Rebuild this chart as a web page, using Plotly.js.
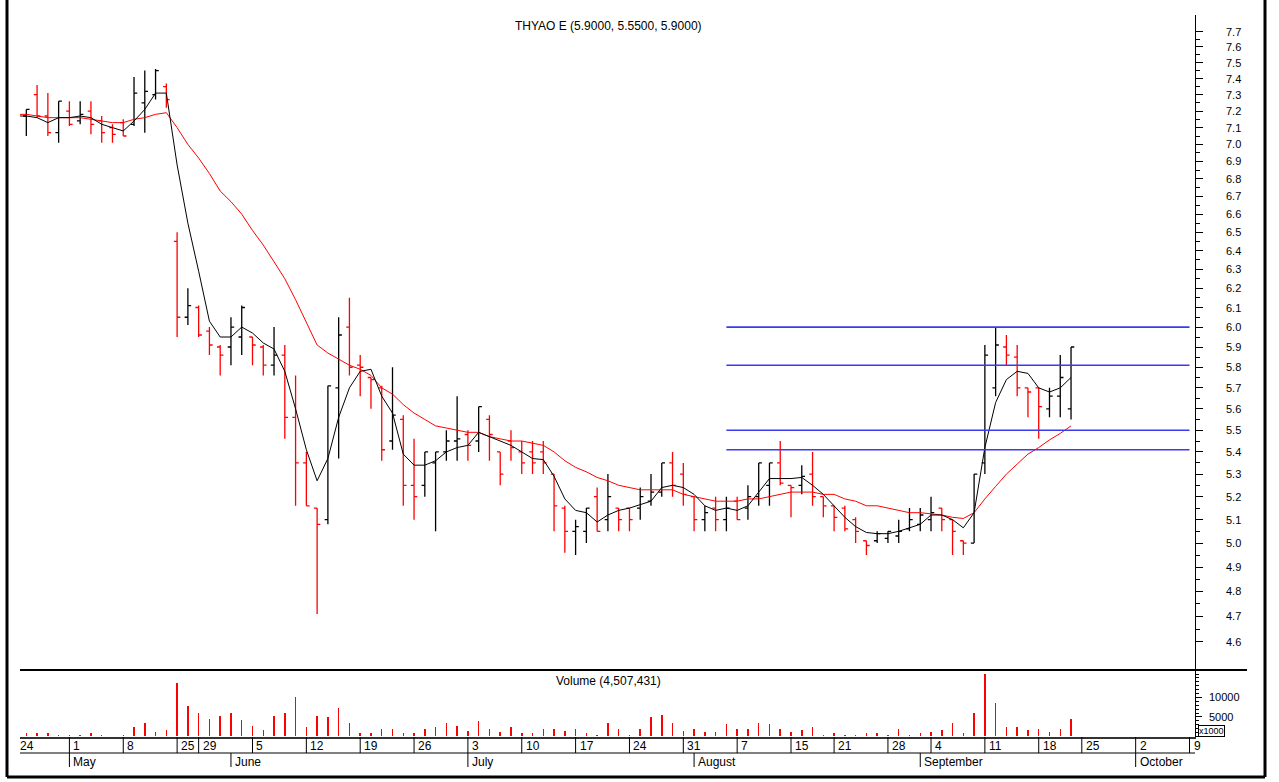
<!DOCTYPE html>
<html>
<head>
<meta charset="utf-8">
<script src="https://cdn.plot.ly/plotly-3.0.1.min.js"></script>
<style>
  html, body { margin: 0; padding: 0; background: #fff; }
  #chart { width: 1279px; height: 782px; }
</style>
</head>
<body>
<div id="chart"></div>
<script>
// --- data (trading-day index 1 = Apr 25, last bar = Sep 21) ---
const opens = [7.17, 7.30, 7.17, 7.07, 7.20, 7.14, 7.20, 7.14, 7.10, 7.13,
  7.12, 7.25, 7.30, 7.35, 6.45, 6.05, 6.10, 5.98, 5.90, 5.90,
  5.95, 5.95, 5.90, 5.81, 5.86, 5.56, 5.35, 5.15, 5.10, 5.70,
  6.00, 5.81, 5.75, 5.70, 5.45, 5.55, 5.25, 5.25, 5.35, 5.40,
  5.45, 5.48, 5.45, 5.55, 5.40, 5.45, 5.40, 5.40, 5.40, 5.30,
  5.15, 5.05, 5.05, 5.20, 5.10, 5.15, 5.15, 5.15, 5.18, 5.22,
  5.35, 5.30, 5.20, 5.10, 5.15, 5.10, 5.18, 5.15, 5.20, 5.25,
  5.35, 5.25, 5.25, 5.30, 5.20, 5.16, 5.15, 5.10, 5.01, 5.01,
  5.02, 5.03, 5.06, 5.08, 5.10, 5.15, 5.10, 5.01, 5.00, 5.35,
  5.70, 5.90, 5.85, 5.70, 5.70, 5.60, 5.66, 5.60];
const highs = [7.21, 7.36, 7.31, 7.26, 7.26, 7.26, 7.26, 7.17, 7.12, 7.15,
  7.41, 7.45, 7.46, 7.37, 6.50, 6.20, 6.11, 6.00, 5.91, 6.05,
  6.11, 5.95, 5.91, 6.00, 5.91, 5.76, 5.40, 5.15, 5.71, 6.05,
  6.15, 5.86, 5.75, 5.71, 5.80, 5.57, 5.46, 5.40, 5.40, 5.50,
  5.66, 5.50, 5.61, 5.57, 5.40, 5.50, 5.45, 5.45, 5.45, 5.30,
  5.16, 5.10, 5.15, 5.24, 5.30, 5.15, 5.15, 5.24, 5.30, 5.35,
  5.40, 5.35, 5.20, 5.16, 5.20, 5.20, 5.20, 5.25, 5.35, 5.35,
  5.45, 5.25, 5.34, 5.40, 5.20, 5.16, 5.16, 5.11, 5.01, 5.05,
  5.05, 5.10, 5.15, 5.15, 5.20, 5.15, 5.10, 5.01, 5.30, 5.91,
  6.00, 5.96, 5.91, 5.70, 5.70, 5.70, 5.86, 5.90];
const lows = [7.05, 7.16, 7.05, 7.01, 7.11, 7.12, 7.06, 7.01, 7.01, 7.05,
  7.11, 7.07, 7.27, 7.22, 5.95, 6.01, 5.95, 5.86, 5.76, 5.81,
  5.86, 5.81, 5.76, 5.76, 5.46, 5.16, 5.16, 4.71, 5.08, 5.37,
  5.76, 5.66, 5.60, 5.36, 5.41, 5.16, 5.10, 5.20, 5.05, 5.36,
  5.36, 5.36, 5.40, 5.36, 5.25, 5.36, 5.30, 5.30, 5.30, 5.05,
  4.96, 4.95, 5.00, 5.05, 5.05, 5.05, 5.05, 5.10, 5.16, 5.20,
  5.20, 5.16, 5.05, 5.05, 5.05, 5.05, 5.10, 5.10, 5.16, 5.16,
  5.25, 5.11, 5.21, 5.16, 5.11, 5.05, 5.05, 5.00, 4.95, 5.00,
  5.00, 5.00, 5.05, 5.05, 5.05, 5.05, 4.95, 4.95, 5.00, 5.30,
  5.66, 5.81, 5.66, 5.56, 5.46, 5.56, 5.56, 5.55];
const closes = [7.21, 7.17, 7.07, 7.26, 7.12, 7.18, 7.12, 7.07, 7.06, 7.05,
  7.31, 7.32, 7.45, 7.27, 6.05, 6.11, 5.96, 5.91, 5.86, 6.00,
  6.10, 5.91, 5.81, 5.86, 5.56, 5.35, 5.16, 5.08, 5.71, 5.96,
  5.80, 5.80, 5.74, 5.41, 5.57, 5.25, 5.20, 5.40, 5.40, 5.45,
  5.46, 5.43, 5.61, 5.48, 5.30, 5.42, 5.35, 5.35, 5.35, 5.16,
  5.05, 5.07, 5.15, 5.05, 5.20, 5.10, 5.10, 5.20, 5.22, 5.35,
  5.25, 5.21, 5.10, 5.13, 5.10, 5.15, 5.10, 5.20, 5.35, 5.35,
  5.26, 5.24, 5.29, 5.20, 5.16, 5.11, 5.06, 5.05, 4.99, 5.04,
  5.05, 5.05, 5.10, 5.12, 5.13, 5.10, 5.05, 5.00, 5.30, 5.86,
  5.91, 5.86, 5.70, 5.68, 5.61, 5.66, 5.75, 5.90];
// volume in thousands
const volumes = [0.77, 0.85, 0.85, 0.5, 0.3, 0.5, 0.85, 0.5, 0.15, 0.3,
  2.5, 3.35, 1.2, 1.55, 13.6, 7.8, 5.9, 4.6, 5.2, 5.9,
  4.35, 2.75, 1.55, 5.3, 5.9, 10.25, 2.4, 5.3, 4.9, 7.2,
  3.35, 0.85, 0.85, 1.8, 2.05, 0.85, 0.85, 2.05, 2.5, 3.35,
  2.75, 1.45, 4.0, 2.05, 1.2, 2.4, 0.77, 0.77, 1.8, 1.8,
  1.45, 1.8, 0.77, 0.5, 3.35, 1.8, 0.5, 1.8, 4.9, 5.55,
  3.35, 1.45, 1.8, 1.2, 1.2, 3.1, 1.8, 1.8, 3.35, 3.1,
  1.8, 1.2, 1.55, 2.4, 0.5, 0.85, 0.5, 0.5, 0.85, 0.85,
  0.4, 1.8, 0.5, 0.85, 1.2, 1.55, 3.35, 0.77, 6.15, 16.0,
  8.7, 2.5, 2.5, 1.55, 1.8, 1.2, 2.05, 4.507];

// moving averages, index 0..98 (black = fast, red = slow)
const fastMA = [7.17, 7.17, 7.16, 7.13, 7.16, 7.16, 7.17, 7.16, 7.12, 7.10,
  7.08, 7.14, 7.21, 7.31, 7.31, 6.88, 6.55, 6.29, 6.03, 5.95,
  5.95, 6.00, 5.97, 5.92, 5.89, 5.78, 5.60, 5.41, 5.27, 5.37,
  5.56, 5.70, 5.78, 5.79, 5.66, 5.58, 5.39, 5.34, 5.34, 5.36,
  5.40, 5.42, 5.43, 5.49, 5.47, 5.45, 5.43, 5.40, 5.37, 5.365,
  5.29, 5.19, 5.14, 5.13, 5.09, 5.12, 5.14, 5.15, 5.165, 5.18,
  5.24, 5.25, 5.24, 5.21, 5.16, 5.14, 5.15, 5.14, 5.16, 5.22,
  5.28, 5.28, 5.28, 5.285, 5.25, 5.21, 5.16, 5.11, 5.07, 5.045,
  5.04, 5.04, 5.05, 5.065, 5.08, 5.12, 5.12, 5.10, 5.065, 5.13,
  5.42, 5.63, 5.74, 5.78, 5.77, 5.70, 5.68, 5.70, 5.75];
const slowMA = [7.18, 7.18, 7.17, 7.16, 7.16, 7.16, 7.16, 7.15, 7.14, 7.13,
  7.13, 7.15, 7.16, 7.18, 7.19, 7.10, 7.00, 6.92, 6.83, 6.73,
  6.67, 6.60, 6.51, 6.43, 6.34, 6.25, 6.14, 6.02, 5.91, 5.87,
  5.84, 5.81, 5.79, 5.76, 5.70, 5.67, 5.62, 5.58, 5.55, 5.52,
  5.51, 5.50, 5.49, 5.49, 5.47, 5.46, 5.45, 5.45, 5.44, 5.43,
  5.40, 5.36, 5.33, 5.31, 5.285, 5.27, 5.25, 5.24, 5.23, 5.23,
  5.23, 5.23, 5.21, 5.20, 5.19, 5.18, 5.18, 5.18, 5.19, 5.19,
  5.20, 5.21, 5.22, 5.22, 5.22, 5.21, 5.21, 5.19, 5.18, 5.16,
  5.16, 5.15, 5.14, 5.13, 5.13, 5.125, 5.12, 5.11, 5.105, 5.13,
  5.19, 5.245, 5.30, 5.345, 5.39, 5.42, 5.455, 5.485, 5.52];

// horizontal levels drawn from Aug 7 to Oct 9
const levelValues = [6.0, 5.81, 5.5, 5.41];
const levelSpan = [66, 109];

// price axis labels
const priceTicks = [4.6, 4.7, 4.8, 4.9, 5.0, 5.1, 5.2, 5.3, 5.4, 5.5, 5.6, 5.7,
  5.8, 5.9, 6.0, 6.1, 6.2, 6.3, 6.4, 6.5, 6.6, 6.7, 6.8, 6.9, 7.0, 7.1, 7.2,
  7.3, 7.4, 7.5, 7.6, 7.7];
const volumeTicks = [5, 10];
const volumeTickText = ['5000', '10000'];

// date axis: trading-day index of each week start and month start
const dayTickIdx = [0, 5, 10, 15, 17, 22, 27, 32, 37, 42, 47, 52, 57, 62, 67, 72, 76, 81, 85, 90, 95, 99, 104, 109];
const dayTickText = ['24', '1', '8', '25', '29', '5', '12', '19', '26', '3', '10', '17', '24', '31', '7', '15', '21', '28', '4', '11', '18', '25', '2', '9'];
const monthTickIdx = [5, 20, 42, 63, 84, 104];
const monthTickText = ['May', 'June', 'July', 'August', 'September', 'October'];

const titleText = 'THYAO E (5.9000, 5.5500, 5.9000)';
const volumeText = 'Volume (4,507,431)';

// --- geometry ---
const X_RANGE = [0.413, 109.51];
const PLOT_H = 722;          // 782 - top 15 - bottom 45
const PLOT_W = 1175;         // 1279 - left 20 - right 84
const py = px => (737 - px) / PLOT_H;     // pixel row -> paper y
const pxX = px => (px - 20) / PLOT_W;     // pixel col -> paper x
const idxToPaper = i => (i - X_RANGE[0]) / (X_RANGE[1] - X_RANGE[0]);

const barIdx = closes.map((_, i) => i + 1);
const maIdx = fastMA.map((_, i) => i);

// --- traces ---
const traces = [];

traces.push({
    type: 'ohlc',
    x: barIdx,
    open: opens,
    high: highs,
    low: lows,
    close: closes,
    xaxis: 'x',
    yaxis: 'y',
    tickwidth: 0.3,
    increasing: { line: { color: '#000000', width: 1.3 } },
    decreasing: { line: { color: '#ff0000', width: 1.3 } },
    hoverinfo: 'skip'
});

traces.push({
    type: 'scatter', mode: 'lines',
    x: maIdx, y: slowMA,
    line: { color: '#ff0000', width: 1 },
    xaxis: 'x', yaxis: 'y', hoverinfo: 'skip'
});

traces.push({
    type: 'scatter', mode: 'lines',
    x: maIdx, y: fastMA,
    line: { color: '#000000', width: 1 },
    xaxis: 'x', yaxis: 'y', hoverinfo: 'skip'
});

levelValues.forEach(v => {
    traces.push({
        type: 'scatter', mode: 'lines',
        x: levelSpan, y: [v, v],
        line: { color: '#3a3af0', width: 1.6 },
        xaxis: 'x', yaxis: 'y', hoverinfo: 'skip'
    });
});

traces.push({
    type: 'bar',
    x: barIdx, y: volumes,
    width: 0.14,
    marker: { color: '#ff0000', line: { width: 0 } },
    xaxis: 'x', yaxis: 'y2', hoverinfo: 'skip'
});

// --- shapes: panel separator, date scale, frame ---
const shapes = [];
const black = { color: '#000', width: 1 };

shapes.push({ type: 'line', xref: 'paper', yref: 'paper', x0: 0, x1: pxX(1247), y0: py(670), y1: py(670), line: { color: '#000', width: 2 } });

dayTickIdx.forEach(i => {
    shapes.push({ type: 'line', xref: 'x', yref: 'paper', x0: i, x1: i, y0: py(737), y1: py(753), line: black });
});
shapes.push({ type: 'line', xref: 'paper', yref: 'paper', x0: 0, x1: 1, y0: py(753), y1: py(753), line: black });
monthTickIdx.forEach(i => {
    shapes.push({ type: 'line', xref: 'x', yref: 'paper', x0: i, x1: i, y0: py(753), y1: py(767), line: black });
});

// outer frame (left, right, bottom)
const frame = { color: '#000', width: 3 };
shapes.push({ type: 'line', xref: 'paper', yref: 'paper', x0: pxX(7), x1: pxX(7), y0: py(0), y1: py(777), line: frame });
shapes.push({ type: 'line', xref: 'paper', yref: 'paper', x0: pxX(1265), x1: pxX(1265), y0: py(0), y1: py(777), line: frame });
shapes.push({ type: 'line', xref: 'paper', yref: 'paper', x0: pxX(7), x1: pxX(1265), y0: py(777), y1: py(777), line: frame });

// --- annotations ---
const annotations = [];
const txt = { family: 'Liberation Sans, Arial, sans-serif', size: 11, color: '#000' };
const txtBig = { family: 'Liberation Sans, Arial, sans-serif', size: 12, color: '#000' };

annotations.push({ text: titleText, xref: 'paper', yref: 'paper', x: pxX(608), y: py(26), showarrow: false, xanchor: 'center', yanchor: 'middle', font: txtBig });
annotations.push({ text: volumeText, xref: 'paper', yref: 'paper', x: pxX(608), y: py(681), showarrow: false, xanchor: 'center', yanchor: 'middle', font: txtBig });
annotations.push({ text: 'x1000', xref: 'paper', yref: 'paper', x: pxX(1198), y: py(731), showarrow: false, xanchor: 'left', yanchor: 'middle',
    font: { family: 'Liberation Sans, Arial, sans-serif', size: 9, color: '#000' }, bordercolor: '#000', borderwidth: 1, borderpad: 0 });

dayTickIdx.forEach((i, k) => {
    annotations.push({ text: dayTickText[k], xref: 'paper', yref: 'paper', x: idxToPaper(i) + 2 / PLOT_W, y: py(745.5),
        showarrow: false, xanchor: 'left', yanchor: 'middle', font: txtBig });
});
monthTickIdx.forEach((i, k) => {
    annotations.push({ text: monthTickText[k], xref: 'paper', yref: 'paper', x: idxToPaper(i) + 2 / PLOT_W, y: py(762),
        showarrow: false, xanchor: 'left', yanchor: 'middle', font: txtBig });
});

// price scale labels sit well right of the ticks (log axis -> y in log10)
priceTicks.forEach(v => {
    annotations.push({ text: v.toFixed(1), xref: 'paper', yref: 'y', x: pxX(1224), y: Math.log10(v),
        showarrow: false, xanchor: 'left', yanchor: 'middle', font: txt });
});
volumeTicks.forEach((v, k) => {
    annotations.push({ text: volumeTickText[k], xref: 'paper', yref: 'y2', x: pxX(1207), y: v,
        showarrow: false, xanchor: 'left', yanchor: 'middle', font: txt });
});

// --- layout ---
const minorPrice = priceTicks.slice(0, -1).map((v, k) => (v + priceTicks[k + 1]) / 2);

const layout = {
    width: 1279,
    height: 782,
    margin: { l: 20, r: 84, t: 15, b: 45, pad: 0 },
    paper_bgcolor: '#ffffff',
    plot_bgcolor: '#ffffff',
    showlegend: false,
    font: txt,
    bargap: 0,
    xaxis: {
        range: X_RANGE,
        domain: [0, 1],
        anchor: 'y2',
        showgrid: false,
        zeroline: false,
        showticklabels: false,
        ticks: '',
        showline: true,
        linecolor: '#333',
        linewidth: 2,
        rangeslider: { visible: false },
        fixedrange: true
    },
    yaxis: {
        type: 'log',
        domain: [py(669), 1],
        range: [Math.log10(4.496), Math.log10(7.808)],
        side: 'right',
        anchor: 'x',
        showgrid: false,
        zeroline: false,
        showline: true,
        linecolor: '#000',
        linewidth: 1,
        ticks: 'outside',
        ticklen: 7,
        tickcolor: '#000',
        tickvals: priceTicks,
        showticklabels: false,
        minor: { tickvals: minorPrice, ticks: 'outside', ticklen: 4, tickcolor: '#000' },
        fixedrange: true
    },
    yaxis2: {
        domain: [0, py(670)],
        range: [-0.13, 17.05],
        side: 'right',
        anchor: 'x',
        showgrid: false,
        zeroline: false,
        showline: true,
        linecolor: '#000',
        linewidth: 1,
        ticks: 'outside',
        ticklen: 6,
        tickcolor: '#000',
        tickvals: volumeTicks,
        showticklabels: false,
        minor: { tickmode: 'linear', tick0: 0, dtick: 1, ticks: 'outside', ticklen: 3, tickcolor: '#000' },
        fixedrange: true
    },
    shapes: shapes,
    annotations: annotations
};

Plotly.newPlot('chart', traces, layout, { displayModeBar: false, staticPlot: true });
</script>
</body>
</html>
